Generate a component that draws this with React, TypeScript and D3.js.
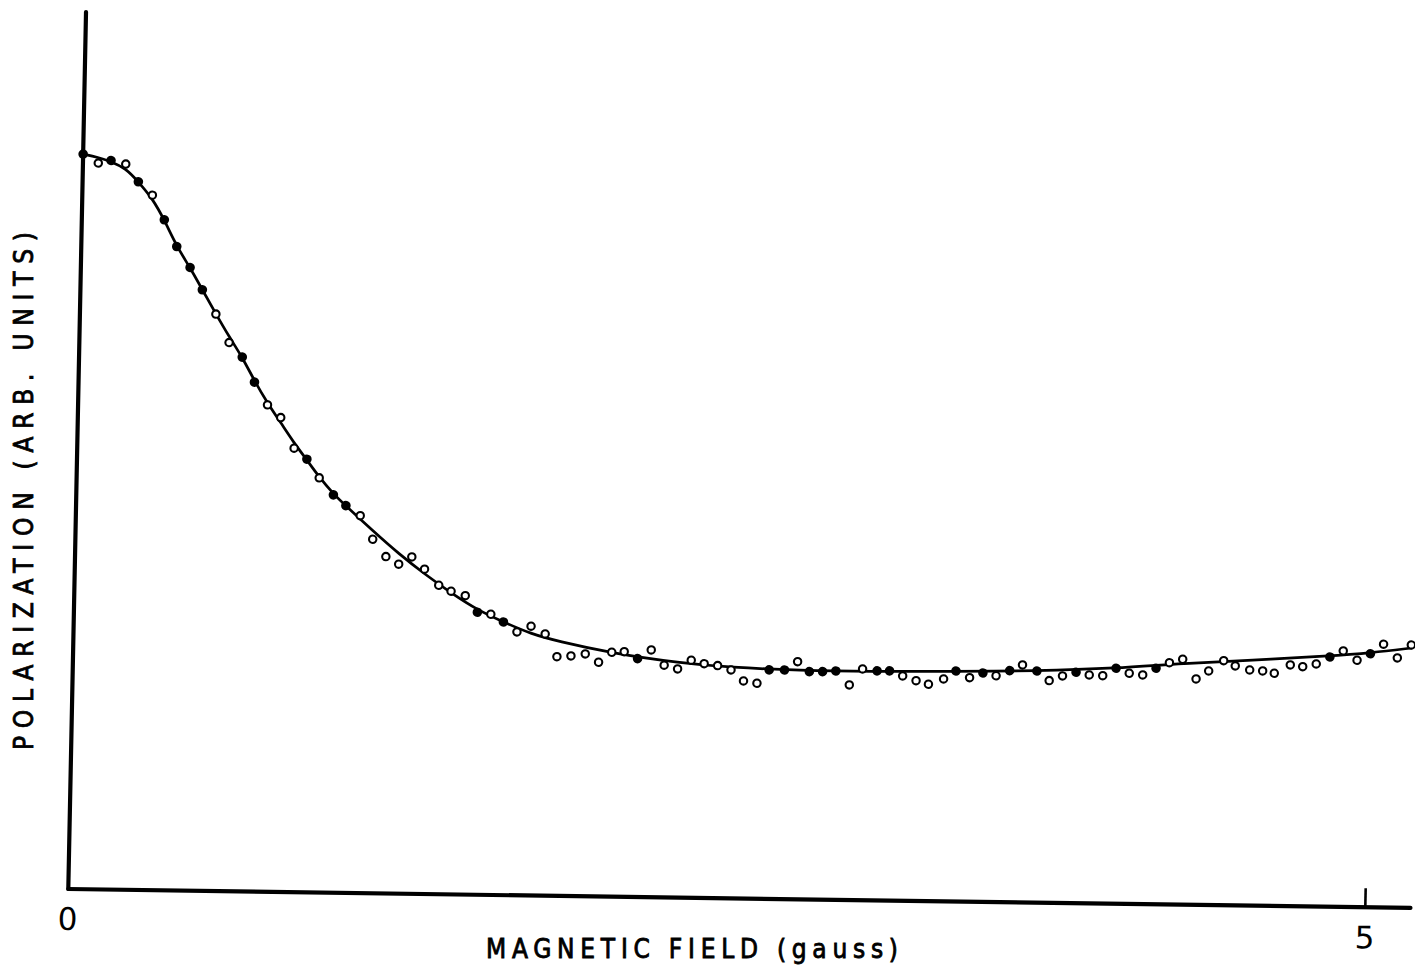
import React from 'react';
import * as d3 from 'd3';

// Measured points: magnetic field (gauss) and polarization (arb. units)
const fieldGauss = [
  0.000, 0.059, 0.108, 0.165, 0.215, 0.270, 0.318, 0.368, 0.421, 0.470,
  0.524, 0.577, 0.629, 0.678, 0.730, 0.782, 0.836, 0.886, 0.935, 0.991,
  1.040, 1.096, 1.146, 1.198, 1.248, 1.298, 1.348, 1.404, 1.452, 1.507,
  1.555, 1.607, 1.656, 1.709, 1.763, 1.818, 1.865, 1.919, 1.974, 2.026,
  2.076, 2.124, 2.176, 2.228, 2.279, 2.331, 2.383, 2.433, 2.485, 2.537,
  2.586, 2.638, 2.684, 2.743, 2.793, 2.839, 2.890, 2.941, 2.994, 3.044,
  3.100, 3.148, 3.199, 3.251, 3.299, 3.357, 3.404, 3.457, 3.508, 3.559,
  3.611, 3.660, 3.716, 3.764, 3.815, 3.867, 3.918, 3.970, 4.021, 4.072,
  4.124, 4.175, 4.226, 4.277, 4.330, 4.378, 4.435, 4.480, 4.536, 4.586,
  4.631, 4.692, 4.740, 4.792, 4.844, 4.895, 4.949, 5.000, 5.050, 5.104,
  5.157,
];
const polarization = [
  8.380, 8.280, 8.311, 8.273, 8.073, 7.923, 7.644, 7.341, 7.104, 6.852,
  6.577, 6.255, 6.091, 5.808, 5.551, 5.408, 5.061, 4.938, 4.727, 4.535,
  4.415, 4.303, 4.036, 3.840, 3.756, 3.841, 3.703, 3.522, 3.456, 3.408,
  3.221, 3.200, 3.114, 3.003, 3.070, 2.984, 2.727, 2.738, 2.763, 2.670,
  2.786, 2.795, 2.718, 2.819, 2.647, 2.607, 2.708, 2.671, 2.651, 2.604,
  2.480, 2.456, 2.610, 2.612, 2.709, 2.597, 2.599, 2.609, 2.452, 2.636,
  2.616, 2.618, 2.563, 2.511, 2.472, 2.535, 2.628, 2.554, 2.610, 2.580,
  2.641, 2.708, 2.641, 2.533, 2.589, 2.633, 2.604, 2.598, 2.685, 2.630,
  2.613, 2.691, 2.757, 2.798, 2.576, 2.669, 2.789, 2.731, 2.687, 2.678,
  2.653, 2.751, 2.733, 2.766, 2.848, 2.919, 2.815, 2.891, 3.002, 2.848,
  2.998,
];
// 1 = marker appears solid (lies on the fitted curve), 0 = open circle
const solidMarker = [
  1, 0, 1, 0, 1, 0, 1, 1, 1, 1,
  0, 0, 1, 1, 0, 0, 0, 1, 0, 1,
  1, 0, 0, 0, 0, 0, 0, 0, 0, 0,
  1, 0, 1, 0, 0, 0, 0, 0, 0, 0,
  0, 0, 1, 0, 0, 0, 0, 0, 0, 0,
  0, 0, 1, 1, 0, 1, 1, 1, 0, 0,
  1, 1, 0, 0, 0, 0, 1, 0, 1, 0,
  1, 0, 1, 0, 0, 1, 0, 0, 1, 0,
  0, 1, 0, 0, 0, 0, 0, 0, 0, 0,
  0, 0, 0, 0, 1, 0, 0, 1, 0, 0,
  0,
];

// Smooth fitted curve
const fitField = [
  0.000, 0.0575, 0.108, 0.165, 0.215, 0.270, 0.318, 0.368, 0.421, 0.470,
  0.523, 0.577, 0.629, 0.678, 0.729, 0.783, 0.835, 0.886, 0.934, 0.991,
  1.040, 1.146, 1.248, 1.348, 1.452, 1.555, 1.656, 1.764, 1.864, 2.077,
  2.341, 2.534, 2.804, 3.074, 3.382, 3.714, 4.022, 4.280, 4.538, 4.846,
  5.000, 5.161,
];
const fitPolarization = [
  8.380, 8.345, 8.300, 8.225, 8.073, 7.887, 7.644, 7.341, 7.104, 6.852,
  6.586, 6.320, 6.091, 5.822, 5.574, 5.348, 5.122, 4.930, 4.738, 4.546,
  4.412, 4.131, 3.873, 3.649, 3.437, 3.247, 3.114, 2.982, 2.906, 2.775,
  2.675, 2.632, 2.609, 2.607, 2.622, 2.641, 2.683, 2.753, 2.796, 2.860,
  2.900, 2.964,
];

const xTicks = [0, 5];
const xTickLabels = ['0', '5'];
const xTitle = 'MAGNETIC FIELD (gauss)';
const yTitle = 'POLARIZATION  (ARB. UNITS)';

export default function App() {
  const W = 1415;
  const H = 980;
  const ox = 68.3;
  const oy = 889;
  const x = d3.scaleLinear().domain([0, 5]).range([ox, ox + 1297]);
  const y = d3.scaleLinear().domain([0, 10]).range([oy, oy - 877]);
  const xAxisEnd = 5.174;
  const line = d3
    .line<[number, number]>()
    .x((d) => x(d[0]))
    .y((d) => y(d[1]))
    .curve(d3.curveBasis);
  const fit: [number, number][] = fitField.map((f, i) => [f, fitPolarization[i]]);
  // the scanned figure is slightly skewed: apply it as an affine transform
  const skew = `translate(${ox},${oy}) matrix(1,0.0141,-0.0202,1,0,0) translate(${-ox},${-oy})`;
  const font = "'DejaVu Sans', 'Liberation Sans', sans-serif";
  const titleFont = "'DejaVu Sans Condensed', 'DejaVu Sans', sans-serif";

  return (
    <svg
      width={W}
      height={H}
      viewBox={`0 0 ${W} ${H}`}
      style={{ position: 'absolute', left: 0, top: 0, background: '#fff' }}
    >
      <rect width={W} height={H} fill="#fff" />
      <g transform={skew}>
        <line x1={x(0)} y1={y(0)} x2={x(xAxisEnd)} y2={y(0)} stroke="#000" strokeWidth={4.2} strokeLinecap="round" />
        <line x1={x(0)} y1={y(0)} x2={x(0)} y2={y(10)} stroke="#000" strokeWidth={4.2} strokeLinecap="round" />
        {xTicks.map((t, i) => (
          <g key={'t' + i}>
            {t > 0 && (
              <line x1={x(t)} x2={x(t)} y1={y(0)} y2={y(0) - 19} stroke="#000" strokeWidth={2.6} />
            )}
            <text
              x={x(t)}
              y={y(0) + 41}
              textAnchor="middle"
              fontFamily={font}
              fontSize={31}
              fill="#000"
            >
              {xTickLabels[i]}
            </text>
          </g>
        ))}
        <path d={line(fit) || ''} fill="none" stroke="#000" strokeWidth={2.7} />
        {fieldGauss.map((f, i) =>
          solidMarker[i] ? (
            <circle key={'p' + i} cx={x(f)} cy={y(polarization[i])} r={4.8} fill="#000" />
          ) : (
            <circle
              key={'p' + i}
              cx={x(f)}
              cy={y(polarization[i])}
              r={3.7}
              fill="#fff"
              stroke="#000"
              strokeWidth={2.1}
            />
          )
        )}
      </g>
      <text
        x={486}
        y={958}
        fontFamily={titleFont}
        fontSize={26}
        textLength={412}
        lengthAdjust="spacing"
        fill="#000"
        stroke="#000"
        strokeWidth={0.8}
      >
        {xTitle}
      </text>
      <text
        transform="translate(33,750) rotate(-90)"
        x={0}
        y={0}
        fontFamily={titleFont}
        fontSize={26}
        textLength={518}
        lengthAdjust="spacing"
        fill="#000"
        stroke="#000"
        strokeWidth={0.8}
      >
        {yTitle}
      </text>
    </svg>
  );
}
